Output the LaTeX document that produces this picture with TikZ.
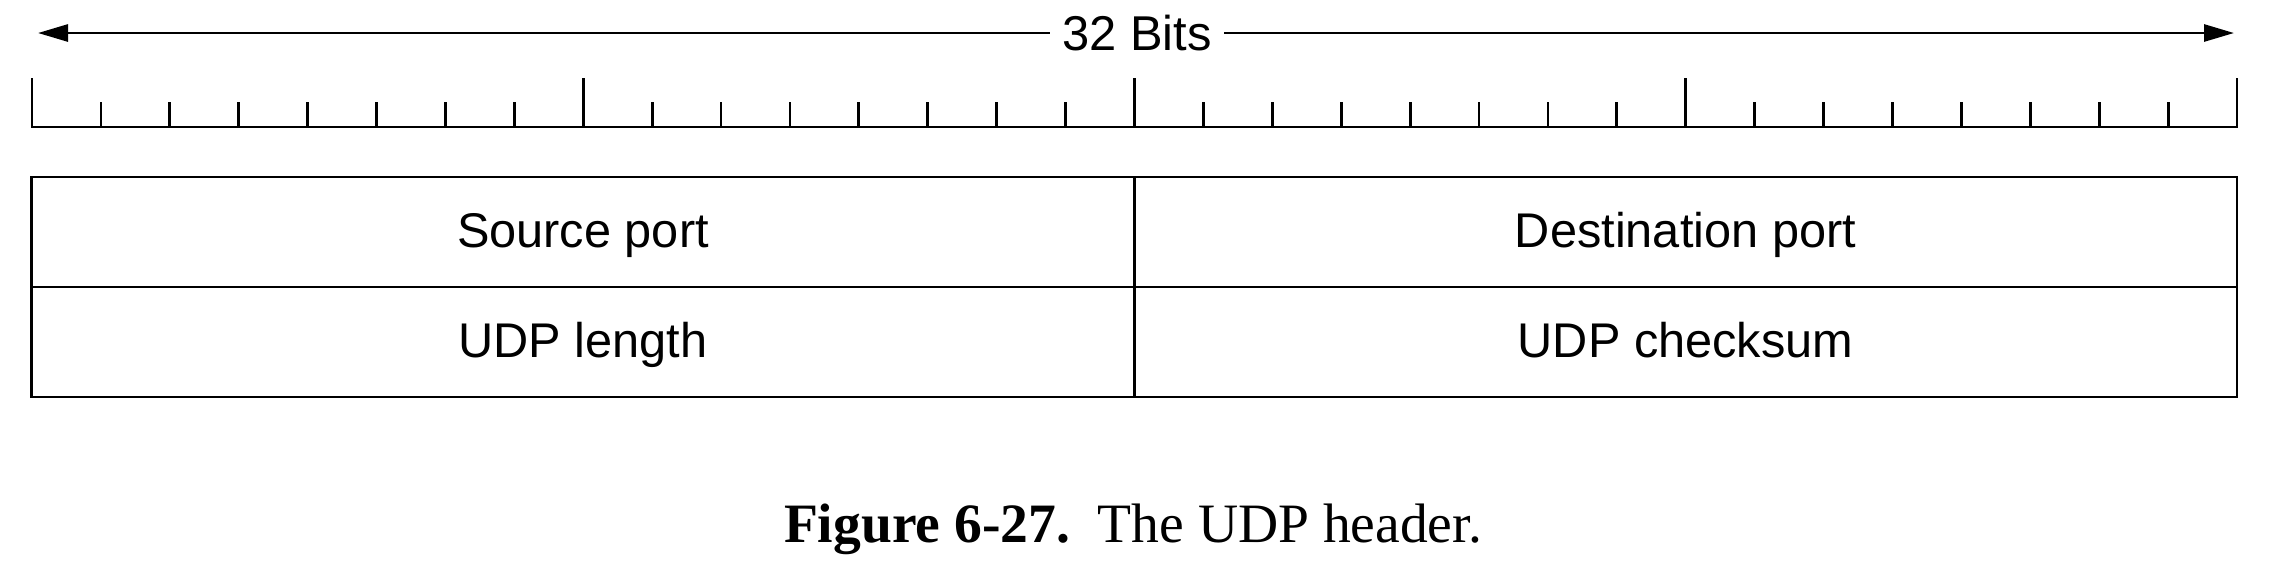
\documentclass[tikz,border=0pt]{standalone}
\usepackage{fontspec}
\setmainfont{Liberation Serif}
\setsansfont{Liberation Sans}
\usetikzlibrary{arrows.meta}
\begin{document}
\begin{tikzpicture}[x=0.01cm,y=-0.01cm,
  rule/.style={line width=0.8pt, line cap=rect},
  cell/.style={draw, line width=0.8pt, minimum width=11.025cm, minimum height=1.10cm,
    inner sep=0pt, font=\sffamily\fontsize{13.85}{16}\selectfont,
    text height=0.716em+0.06cm, text depth=0pt},
  bitarrow/.style={line width=0.8pt, -{Triangle[length=0.3cm,width=0.17cm]}},
  lbl/.style={font=\sffamily\fontsize{13.9}{16}\selectfont, inner sep=0pt},
  capt/.style={font=\rmfamily\fontsize{15.8}{19}\selectfont, inner sep=0pt}]
\useasboundingbox (0,0) rectangle (2272,572);
% 32 bits arrow
\node[lbl] (bits) at (1137,33) {32 Bits};
\coordinate (aleft) at (38,33);
\coordinate (aright) at (2234,33);
\draw[bitarrow] ([xshift=-0.12cm]bits.west) -- (aleft);
\draw[bitarrow] ([xshift=0.12cm]bits.east) -- (aright);
% ruler
\coordinate (r0) at (32,127);
\coordinate (r1) at (2237,127);
\draw[rule] (r0) -- (r1);
\foreach \i in {0,...,32}{
  \pgfmathsetmacro{\xx}{32+\i*68.906}
  \pgfmathtruncatemacro{\mj}{mod(\i,8)==0 ? 1 : 0}
  \ifnum\mj=1
    \draw[rule] (\xx,127) -- (\xx,79);
  \else
    \draw[rule] (\xx,127) -- (\xx,103);
  \fi
}
% header cells
\node[cell] (sp) at (583,232) {Source port};
\node[cell] (dp) at (1685.5,232) {Destination port};
\node[cell] (ul) at (583,342) {UDP length};
\node[cell] (uc) at (1685.5,342) {UDP checksum};
% caption
\node[capt, anchor=base] (caption) at (1133,542) {\textbf{Figure 6-27.}\enspace The UDP header.};
\end{tikzpicture}
\end{document}
